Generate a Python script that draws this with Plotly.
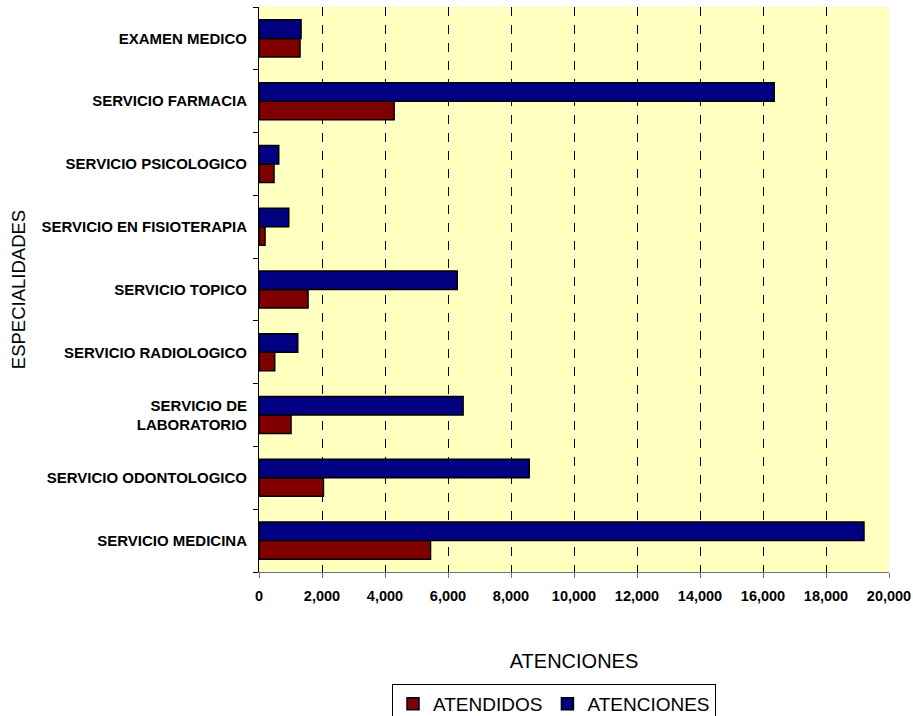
import plotly.graph_objects as go

categories = [
    "SERVICIO MEDICINA",
    "SERVICIO ODONTOLOGICO",
    "SERVICIO DE<br>LABORATORIO",
    "SERVICIO RADIOLOGICO",
    "SERVICIO TOPICO",
    "SERVICIO EN FISIOTERAPIA",
    "SERVICIO PSICOLOGICO",
    "SERVICIO FARMACIA",
    "EXAMEN MEDICO",
]
atendidos = [5446, 2046, 1017, 499, 1557, 191, 477, 4290, 1303]
atenciones = [19206, 8580, 6480, 1230, 6292, 944, 626, 16356, 1335]
x_ticks = list(range(0, 20001, 2000))
x_tick_labels = [f"{v:,}" for v in x_ticks]

FONT = "Liberation Sans, Arial, sans-serif"

fig = go.Figure()
fig.add_trace(go.Bar(
    y=categories, x=atendidos, orientation="h", name="ATENDIDOS",
    marker=dict(color="#800000", line=dict(color="black", width=1.5)),
))
fig.add_trace(go.Bar(
    y=categories, x=atenciones, orientation="h", name="ATENCIONES",
    marker=dict(color="#000080", line=dict(color="black", width=1.5)),
))

fig.update_layout(
    width=913, height=716,
    margin=dict(l=259, r=24, t=7, b=144, autoexpand=False),
    paper_bgcolor="white",
    plot_bgcolor="#FFFFC0",
    barmode="group",
    bargap=0.41,
    bargroupgap=0,
    font=dict(family=FONT, color="black"),
    showlegend=True,
    legend=dict(
        orientation="h",
        x=(392 - 259) / 630, xanchor="left",
        y=(572 - 684) / 565, yanchor="top",
        font=dict(size=19, family=FONT),
        bordercolor="black", borderwidth=1,
        bgcolor="white",
        traceorder="normal",
        itemwidth=30,
        tracegroupgap=0,
    ),
    xaxis=dict(
        range=[0, 20000],
        tickvals=x_ticks, ticktext=x_tick_labels,
        tickfont=dict(size=14.5, family=FONT, weight="bold"),
        showgrid=True, gridcolor="black", griddash="dash", gridwidth=1,
        zeroline=False,
        showline=True, linecolor="#707070", linewidth=1,
        ticks="outside", ticklen=5, tickcolor="#707070",
        ticklabelstandoff=6,
        title=dict(text="ATENCIONES", font=dict(size=20, family=FONT), standoff=50),
    ),
    yaxis=dict(
        type="category",
        tickfont=dict(size=15, family=FONT, weight="bold"),
        showline=True, linecolor="black", linewidth=1,
        ticks="outside", ticklen=5, tickcolor="black",
        tickson="boundaries",
        ticklabelstandoff=8,
        showgrid=False,
        title=dict(text="ESPECIALIDADES", font=dict(size=18.5, family=FONT), standoff=10),
        automargin=False,
    ),
)

fig.write_html("out.html", config={"displayModeBar": False})
with open("out.html", "r", encoding="utf-8") as f:
    html = f.read()
html = html.replace("<head>", "<head><style>html,body{margin:0;padding:0;overflow:hidden;}</style>", 1)
with open("out.html", "w", encoding="utf-8") as f:
    f.write(html)
